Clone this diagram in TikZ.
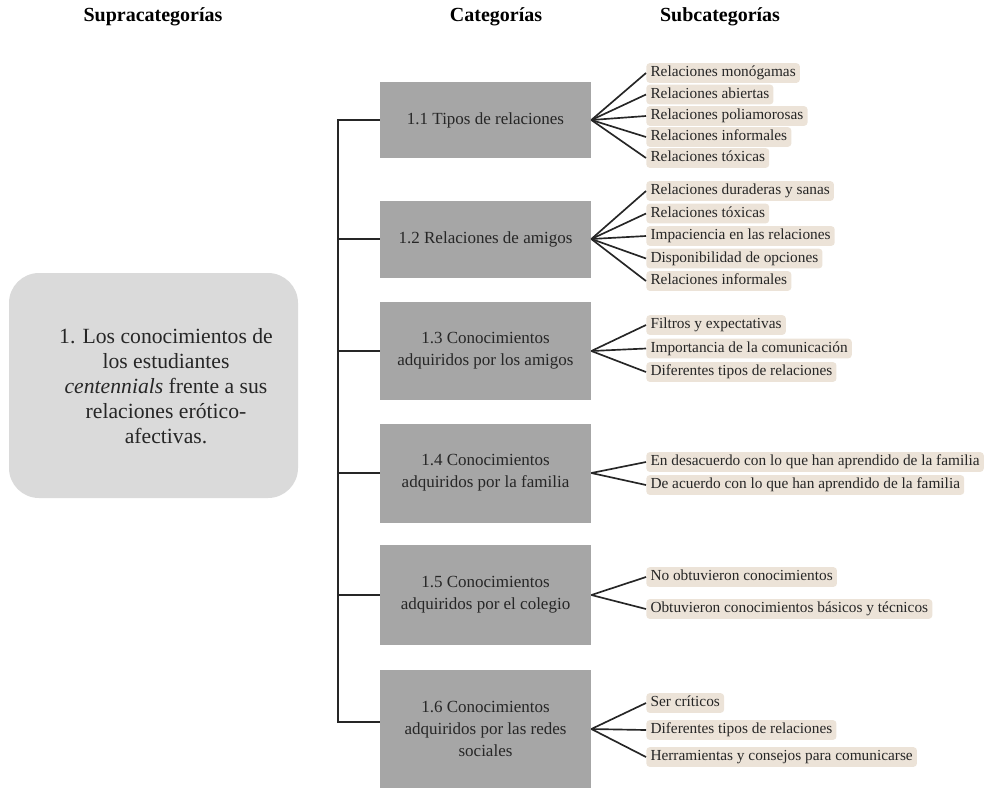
\documentclass[tikz,border=0pt]{standalone}
\usepackage{fontspec}
\setmainfont{Liberation Serif}
\usetikzlibrary{positioning}
\definecolor{catgray}{RGB}{166,166,166}
\definecolor{supgray}{RGB}{218,218,218}
\definecolor{subbeige}{RGB}{236,227,216}
\definecolor{inkgray}{RGB}{38,38,38}

\begin{document}
\begin{tikzpicture}[x=0.6pt,y=-0.6pt,
    header/.style={font=\fontsize{12}{14}\selectfont\bfseries},
    supbox/.style={fill=supgray, rounded corners=18pt, minimum width=173.4pt, minimum height=135pt},
    suptext/.style={align=center, text=inkgray, font=\fontsize{13}{15}\selectfont},
    catbox/.style={fill=catgray, minimum width=126.6pt, minimum height=59.4pt, text=inkgray, align=center, font=\fontsize{10.2}{13.2}\selectfont},
    subbox/.style={fill=subbeige, rounded corners=2pt, anchor=west, inner xsep=2.5pt, inner ysep=1.7pt, text height=6.4pt, text depth=2pt, text=inkgray, font=\fontsize{9.2}{11}\selectfont},
    link/.style={draw=inkgray, line width=1pt}]
    \useasboundingbox (0,0) rectangle (987,788);

    % headers
    \node[header] (hsup) at (153,17) {Supracategorías};
    \node[header] (hcat) at (496,17) {Categorías};
    \node[header] (hsub) at (720,17) {Subcategorías};

    % supracategory
    \node[supbox] (sup) at (153.5,385.5) {};
    \node[suptext] (supt) at (166,386) {1. Los conocimientos de\\los estudiantes\\\textit{centennials} frente a sus\\relaciones erótico-\\afectivas.};

    % categories
    \node[catbox, minimum height=45.6pt] (c1) at (485.5,120) {1.1 Tipos de relaciones};
    \node[catbox, minimum height=46.2pt] (c2) at (485.5,239) {1.2 Relaciones de amigos};
    \node[catbox, minimum height=58.8pt] (c3) at (485.5,351) {1.3 Conocimientos\\adquiridos por los amigos};
    \node[catbox] (c4) at (485.5,473) {1.4 Conocimientos\\adquiridos por la familia};
    \node[catbox, minimum height=60pt] (c5) at (485.5,595) {1.5 Conocimientos\\adquiridos por el colegio};
    \node[catbox, minimum height=70.8pt] (c6) at (485.5,729) {1.6 Conocimientos\\adquiridos por las redes\\sociales};
    \coordinate (c6in) at (380,722);

    % trunk
    \coordinate (trunk) at (338,0);
    \draw[link] (c1.west) -- (c1.west -| trunk) -- (c6in -| trunk) -- (c6in);
    \foreach \c in {c2,c3,c4,c5}
        \draw[link] (\c.west) -- (\c.west -| trunk);

    % subcategories
    \foreach \k/\yy/\txt in {a/73/Relaciones monógamas, b/94.5/Relaciones abiertas, c/116/Relaciones poliamorosas, d/137/Relaciones informales, e/158/Relaciones tóxicas} {
        \node[subbox] (s1\k) at (646,\yy) {\txt};
        \draw[link] (c1.east) -- (s1\k.west);
    }
    \foreach \k/\yy/\txt in {a/191/Relaciones duraderas y sanas, b/213.5/Relaciones tóxicas, c/236/Impaciencia en las relaciones, d/258.5/Disponibilidad de opciones, e/281/Relaciones informales} {
        \node[subbox] (s2\k) at (646,\yy) {\txt};
        \draw[link] (c2.east) -- (s2\k.west);
    }
    \foreach \k/\yy/\txt in {a/325/Filtros y expectativas, b/348.5/Importancia de la comunicación, c/372/Diferentes tipos de relaciones} {
        \node[subbox] (s3\k) at (646,\yy) {\txt};
        \draw[link] (c3.east) -- (s3\k.west);
    }
    \foreach \k/\yy/\txt in {a/462/En desacuerdo con lo que han aprendido de la familia, b/485/De acuerdo con lo que han aprendido de la familia} {
        \node[subbox] (s4\k) at (646,\yy) {\txt};
        \draw[link] (c4.east) -- (s4\k.west);
    }
    \foreach \k/\yy/\txt in {a/577/No obtuvieron conocimientos, b/609/Obtuvieron conocimientos básicos y técnicos} {
        \node[subbox] (s5\k) at (646,\yy) {\txt};
        \draw[link] (c5.east) -- (s5\k.west);
    }
    \foreach \k/\yy/\txt in {a/703/Ser críticos, b/730/Diferentes tipos de relaciones, c/757/Herramientas y consejos para comunicarse} {
        \node[subbox] (s6\k) at (646,\yy) {\txt};
        \draw[link] (c6.east) -- (s6\k.west);
    }
\end{tikzpicture}
\end{document}
